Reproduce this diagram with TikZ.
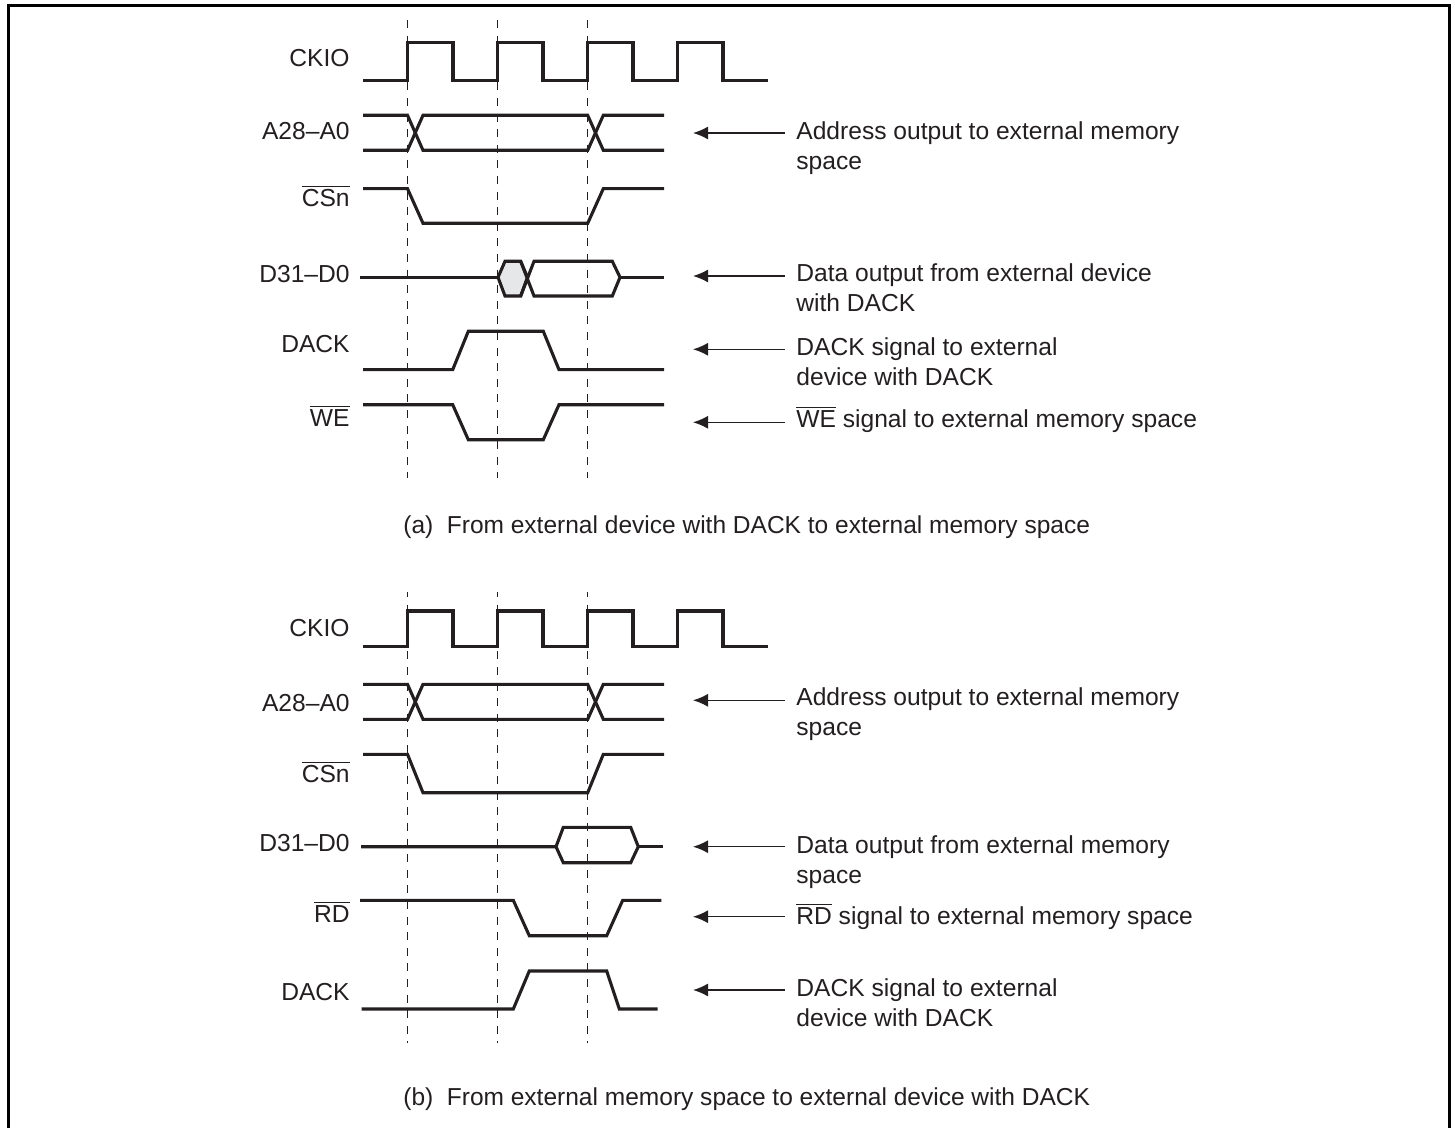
\documentclass[tikz,border=0pt]{standalone}
\usepackage{fontspec}
\setmainfont{Liberation Sans}
\usetikzlibrary{arrows.meta}
\definecolor{Ink}{HTML}{231F20}
\definecolor{Hatch}{HTML}{E6E7E8}

\begin{document}
\begin{tikzpicture}[
    x=0.5pt,y=-0.5pt,
    sig/.style={line width=1.55pt,Ink,line join=miter},
    tick/.style={line width=0.95pt,Ink,dash pattern=on 4pt off 3.8pt},
    arr/.style={-{Latex[length=7.5pt,width=6.5pt]},line width=0.7pt,Ink},
    lbl/.style={anchor=east,inner sep=0pt,font=\fontsize{12.3}{15}\selectfont,text=Ink},
    note/.style={anchor=north west,inner sep=0pt,align=left,font=\fontsize{12.3}{15}\selectfont,text=Ink},
    caption/.style={anchor=west,inner sep=0pt,font=\fontsize{12.26}{15}\selectfont,text=Ink}
  ]
    \useasboundingbox (0,0) rectangle (1455,1128);
    \draw[line width=1.5pt,black] (8.5,1128) -- (8.5,5.5) -- (1449.5,5.5) -- (1449.5,1128);

    % dashed clock marks
    \foreach \x in {407.5,497.5,587.5}{
      \draw[tick] (\x,20) -- (\x,478);
      \draw[tick,dash phase=1.5pt] (\x,592) -- (\x,1043);
    }

    % panel (a)
    \node[lbl] (ckioa) at (350,58.5) {CKIO};
    \node[lbl] (adra) at (350,131) {A28--A0};
    \node[lbl] (csa) at (350,196) {$\overline{\mbox{CSn}}$};
    \node[lbl] (dataa) at (350,274) {D31--D0};
    \node[lbl] (dacka) at (350,344.5) {DACK};
    \node[lbl] (wea) at (350,416) {$\overline{\mbox{WE}}$};

    \draw[sig] (363,80.3) -- (407.5,80.3) -- (407.5,42.3) -- (453,42.3) -- (453,80.3) -- (497.5,80.3) -- (497.5,42.3) -- (543,42.3) -- (543,80.3)
      -- (587.7,80.3) -- (587.7,42.3) -- (633,42.3) -- (633,80.3) -- (677.7,80.3) -- (677.7,42.3) -- (723,42.3) -- (723,80.3) -- (767.7,80.3);
    \draw[sig] (363,115.3) -- (407.5,115.3) -- (423,150.3) -- (587.7,150.3) -- (603.3,115.3) -- (664,115.3);
    \draw[sig] (363,150.3) -- (407.5,150.3) -- (423,115.3) -- (587.7,115.3) -- (603.3,150.3) -- (664,150.3);
    \draw[sig] (363,188.7) -- (407.5,188.7) -- (423,223.3) -- (587.7,223.3) -- (603.3,188.7) -- (664,188.7);
    \draw[sig] (360,277.3) -- (498,277.3);
    \draw[sig,fill=Hatch] (498,277.3) -- (505,261.3) -- (520.7,261.3) -- (527.5,277.3) -- (520.7,296) -- (505,296) -- cycle;
    \draw[sig] (520.7,261.3) -- (534,296) -- (612.3,296) -- (620,277.3) -- (612.3,261.3) -- (534,261.3) -- (520.7,296);
    \draw[sig] (620,277.3) -- (664,277.3);
    \draw[sig] (363,369.7) -- (452.7,369.7) -- (468.3,331.3) -- (543.3,331.3) -- (559,369.7) -- (664,369.7);
    \draw[sig] (363,404.7) -- (452.7,404.7) -- (468.3,439.7) -- (543.3,439.7) -- (559,404.7) -- (664,404.7);

    % panel (b)
    \node[lbl] (ckiob) at (350,628.5) {CKIO};
    \node[lbl] (adrb) at (350,703) {A28--A0};
    \node[lbl] (csb) at (350,772) {$\overline{\mbox{CSn}}$};
    \node[lbl] (datab) at (350,843) {D31--D0};
    \node[lbl] (rdb) at (350,912) {$\overline{\mbox{RD}}$};
    \node[lbl] (dackb) at (350,992.5) {DACK};

    \draw[sig] (363,646.3) -- (407.5,646.3) -- (407.5,611) -- (453,611) -- (453,646.3) -- (497.5,646.3) -- (497.5,611) -- (543,611) -- (543,646.3)
      -- (587.7,646.3) -- (587.7,611) -- (633,611) -- (633,646.3) -- (677.7,646.3) -- (677.7,611) -- (723,611) -- (723,646.3) -- (767.7,646.3);
    \draw[sig] (363,684.3) -- (407.5,684.3) -- (423,719.3) -- (587.7,719.3) -- (603.3,684.3) -- (664,684.3);
    \draw[sig] (363,719.3) -- (407.5,719.3) -- (423,684.3) -- (587.7,684.3) -- (603.3,719.3) -- (664,719.3);
    \draw[sig] (363,754.3) -- (407.5,754.3) -- (423,792.7) -- (587.7,792.7) -- (603.3,754.3) -- (664,754.3);
    \draw[sig] (361,846.7) -- (556,846.7) -- (563.3,827.3) -- (630.7,827.3) -- (638.3,846.7) -- (630.7,862.7) -- (563.3,862.7) -- (556,846.7);
    \draw[sig] (638.3,846.7) -- (662.7,846.7);
    \draw[sig] (360,900.3) -- (513.3,900.3) -- (529.3,935.7) -- (606.7,935.7) -- (622.7,900.3) -- (661.3,900.3);
    \draw[sig] (361.7,1009) -- (513.3,1009) -- (529.3,971) -- (606.7,971) -- (619.3,1009) -- (657.7,1009);

    % notes with arrows
    \foreach \n/\y/\ty/\t in {
        addra/133/121/{Address output to external memory\\space},
        dtoa/276/263/{Data output from external device\\with DACK},
        acka/349.3/337/{DACK signal to external\\device with DACK},
        wrta/422.3/406/{$\overline{\mbox{WE}}$ signal to external memory space},
        addrb/700.3/687/{Address output to external memory\\space},
        dtob/846.7/835/{Data output from external memory\\space},
        rdnb/916.7/903/{$\overline{\mbox{RD}}$ signal to external memory space},
        ackb/990/978/{DACK signal to external\\device with DACK}}{
      \node[note] (\n) at (796,\ty) {\t};
      \coordinate (\n tail) at (785,\y);
      \coordinate (\n head) at (693,\y);
      \draw[arr] (\n tail) -- (\n head);
    }

    \node[caption] (capa) at (403,527) {(a)\hspace{0.55em}From external device with DACK to external memory space};
    \node[caption] (capb) at (403,1099) {(b)\hspace{0.55em}From external memory space to external device with DACK};
\end{tikzpicture}
\end{document}
